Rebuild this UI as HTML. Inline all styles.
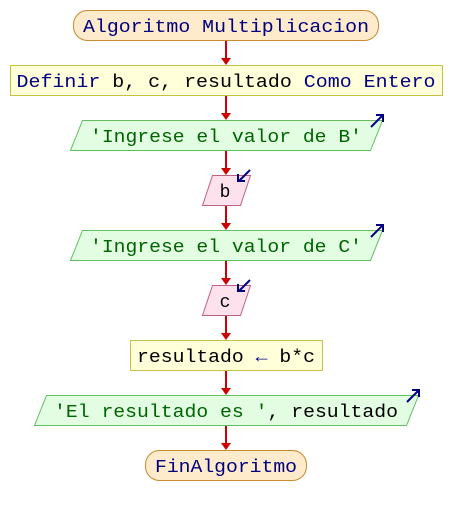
<!DOCTYPE html>
<html><head><meta charset="utf-8"><style>
html,body{margin:0;padding:0;background:#fff;width:452px;height:515px;overflow:hidden}
text{font-family:"Liberation Mono","DejaVu Sans Mono",monospace;font-size:18px}
</style></head><body>
<svg width="452" height="515" viewBox="0 0 452 515" xmlns="http://www.w3.org/2000/svg">
<g stroke="#cc0000" stroke-width="2">
<line x1="226" y1="40" x2="226" y2="58"/>
<line x1="226" y1="95" x2="226" y2="113"/>
<line x1="226" y1="150" x2="226" y2="168"/>
<line x1="226" y1="205" x2="226" y2="223"/>
<line x1="226" y1="260" x2="226" y2="278"/>
<line x1="226" y1="315" x2="226" y2="333"/>
<line x1="226" y1="370" x2="226" y2="388"/>
<line x1="226" y1="425" x2="226" y2="443"/>
</g>
<g fill="#cc0000">
<path d="M221,58 L231,58 L226,65 Z"/><path d="M221,113 L231,113 L226,120 Z"/>
<path d="M221,168 L231,168 L226,175 Z"/><path d="M221,223 L231,223 L226,230 Z"/>
<path d="M221,278 L231,278 L226,285 Z"/><path d="M221,333 L231,333 L226,340 Z"/>
<path d="M221,388 L231,388 L226,395 Z"/><path d="M221,443 L231,443 L226,450 Z"/>
</g>
<rect x="73.5" y="10.5" width="305" height="30" rx="14" fill="#fdebcb" stroke="#c88a2e"/>
<text x="226" y="32" text-anchor="middle" textLength="286" lengthAdjust="spacingAndGlyphs" fill="#000080">Algoritmo Multiplicacion</text>
<rect x="10.5" y="65.5" width="432" height="30" fill="#ffffd9" stroke="#c8c040"/>
<text x="226" y="87" text-anchor="middle" textLength="419" lengthAdjust="spacingAndGlyphs"><tspan fill="#000080">Definir</tspan><tspan fill="#000"> b, c, resultado </tspan><tspan fill="#000080">Como Entero</tspan></text>
<path d="M82.5,120.5 L382.5,120.5 L370.5,150.5 L70.5,150.5 Z" fill="#e2fde2" stroke="#60c060"/>
<text x="226" y="142" text-anchor="middle" textLength="272" lengthAdjust="spacingAndGlyphs" fill="#006400">'Ingrese el valor de B'</text>
<path d="M371,127 L382,116 M376,115 L383,115 L383,122" stroke="#000080" stroke-width="2" fill="none"/>
<path d="M212.5,175.5 L250.5,175.5 L240.5,205.5 L202.5,205.5 Z" fill="#fde2ee" stroke="#c06080"/>
<text x="225" y="197" text-anchor="middle" fill="#000">b</text>
<path d="M250,170 L239,181 M238,174 L238,181 L245,181" stroke="#000080" stroke-width="2" fill="none"/>
<path d="M82.5,230.5 L382.5,230.5 L370.5,260.5 L70.5,260.5 Z" fill="#e2fde2" stroke="#60c060"/>
<text x="226" y="252" text-anchor="middle" textLength="272" lengthAdjust="spacingAndGlyphs" fill="#006400">'Ingrese el valor de C'</text>
<path d="M371,237 L382,226 M376,225 L383,225 L383,232" stroke="#000080" stroke-width="2" fill="none"/>
<path d="M212.5,285.5 L250.5,285.5 L240.5,315.5 L202.5,315.5 Z" fill="#fde2ee" stroke="#c06080"/>
<text x="225" y="307" text-anchor="middle" fill="#000">c</text>
<path d="M250,280 L239,291 M238,284 L238,291 L245,291" stroke="#000080" stroke-width="2" fill="none"/>
<rect x="130.5" y="340.5" width="192" height="30" fill="#ffffd9" stroke="#c8c040"/>
<text x="226" y="362" text-anchor="middle" textLength="178" lengthAdjust="spacingAndGlyphs"><tspan fill="#000">resultado </tspan><tspan fill="#000080">←</tspan><tspan fill="#000"> b*c</tspan></text>
<path d="M46.5,395.5 L418.5,395.5 L406.5,425.5 L34.5,425.5 Z" fill="#e2fde2" stroke="#60c060"/>
<text x="226" y="417" text-anchor="middle" textLength="344" lengthAdjust="spacingAndGlyphs"><tspan fill="#006400">'El resultado es '</tspan><tspan fill="#000">, resultado</tspan></text>
<path d="M407,402 L418,391 M412,390 L419,390 L419,397" stroke="#000080" stroke-width="2" fill="none"/>
<rect x="145.5" y="450.5" width="161" height="30" rx="14" fill="#fdebcb" stroke="#c88a2e"/>
<text x="226" y="472" text-anchor="middle" textLength="142" lengthAdjust="spacingAndGlyphs" fill="#000080">FinAlgoritmo</text>
</svg>
</body></html>
